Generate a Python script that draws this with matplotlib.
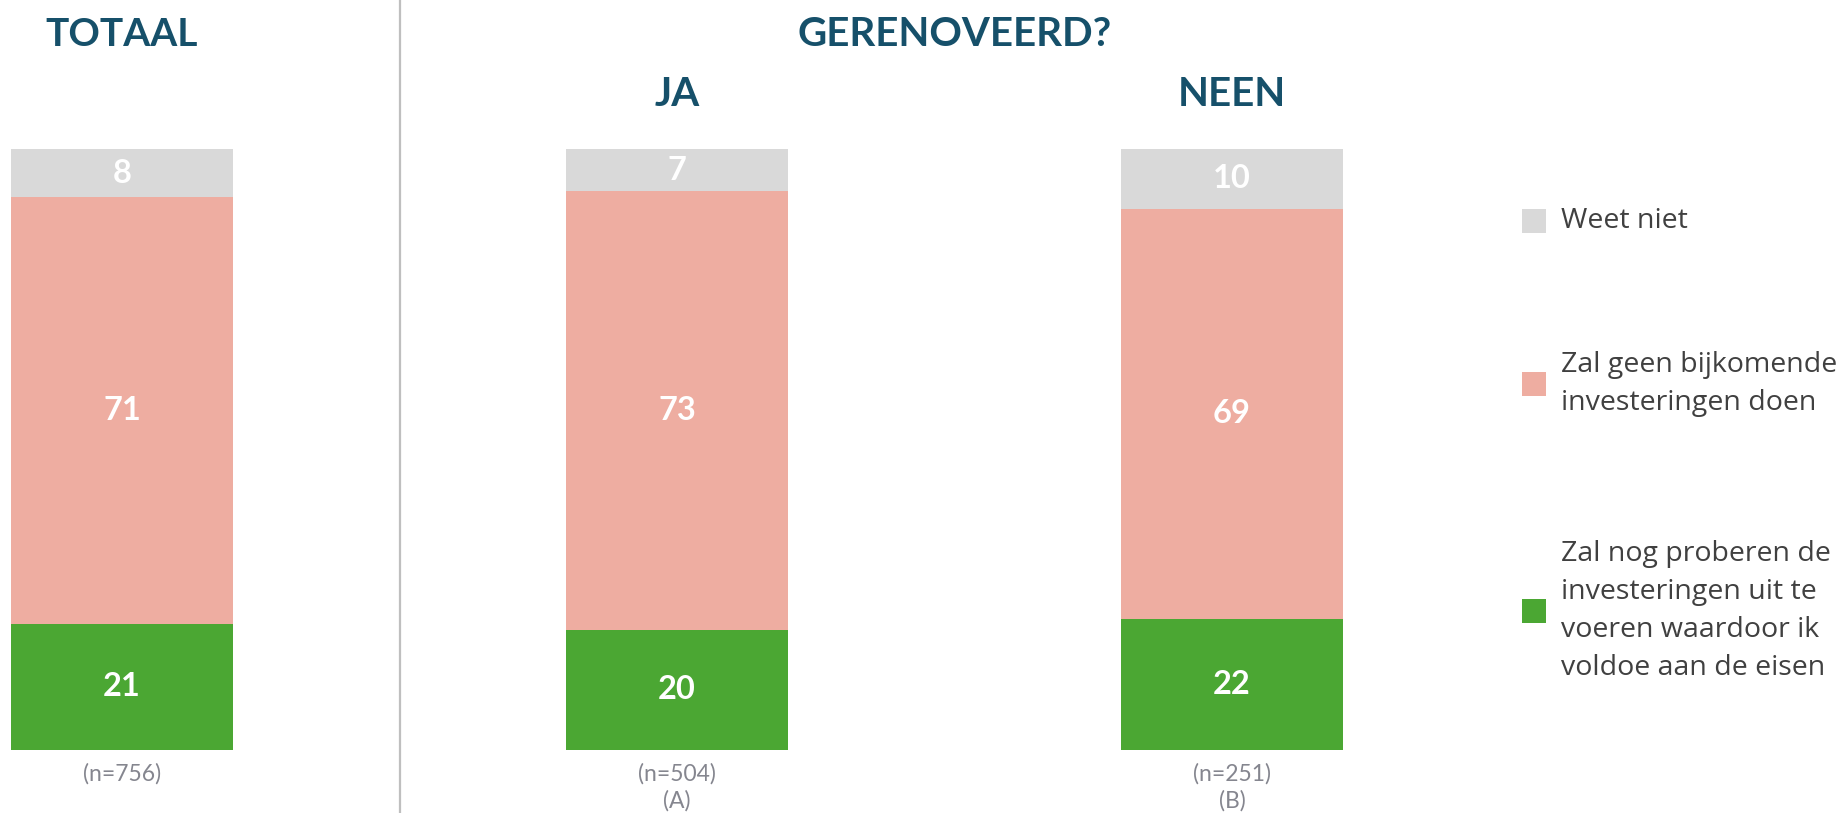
import numpy as np
import matplotlib
matplotlib.use('Agg')
import matplotlib.pyplot as plt
from matplotlib.patches import Rectangle
from matplotlib.transforms import blended_transform_factory

# Datos del gráfico
groepen = ['TOTAAL', 'JA', 'NEEN']
n_labels = ['(n=756)', '(n=504)\n(A)', '(n=251)\n(B)']
reeksen = ['Zal nog proberen de\ninvesteringen uit te\nvoeren waardoor ik\nvoldoe aan de eisen',
           'Zal geen bijkomende\ninvesteringen doen',
           'Weet niet']
groen = [21, 20, 22]
roze = [71, 73, 69]
grijs = [8, 7, 10]

kleuren = ['#4BA733', '#EEADA1', '#D9D9D9']
titel_kleur = '#16506A'

W, H = 1841, 813
fig = plt.figure(figsize=(W / 100, H / 100), dpi=100)

# Eje principal: barras apiladas normalizadas al 100%
ax = fig.add_axes([11 / W, 63 / H, 1332 / W, 601 / H])
data = np.array([groen, roze, grijs], dtype=float)
totalen = data.sum(axis=0)
hoogtes = data / totalen * 100

x = np.arange(len(groepen))
bodem = np.zeros(len(groepen))
for i in range(len(data)):
    ax.bar(x, hoogtes[i], bottom=bodem, width=0.4, color=kleuren[i], linewidth=0)
    for j in range(len(x)):
        ax.text(x[j], bodem[j] + hoogtes[i][j] / 2, f'{int(data[i][j])}',
                ha='center', va='center', color='white', fontsize=23.5,
                fontweight='bold', family='Lato')
    bodem += hoogtes[i]

ax.set_xlim(-0.2, 2.2)
ax.set_ylim(0, 100)
ax.axis('off')

# Línea divisoria entre total y subgrupos
ax.axvline(0.5, ymin=-63 / 601, ymax=750 / 601, color='#BFBFBF', linewidth=1.6, clip_on=False)

# Títulos
tr = blended_transform_factory(ax.transData, fig.transFigure)
ax.text(0, 1 - 34 / H, groepen[0], transform=tr, ha='center', va='center',
        fontsize=28, fontweight='bold', color=titel_kleur, family='Lato')
ax.text(1.5, 1 - 34 / H, 'GERENOVEERD?', transform=tr, ha='center', va='center',
        fontsize=29, fontweight='bold', color=titel_kleur, family='Lato')
for j in [1, 2]:
    ax.text(x[j], 1 - 94 / H, groepen[j], transform=tr, ha='center', va='center',
            fontsize=29, fontweight='bold', color=titel_kleur, family='Lato')

# Tamaño de muestra debajo de cada barra
for j in range(len(x)):
    ax.text(x[j], 1 - 763 / H, n_labels[j], transform=tr, ha='center', va='top',
            fontsize=16.5, color='#85868F', family='Lato', linespacing=1.3)

# Leyenda manual
leg_y = [221, 384, 611]
leg_items = [(reeksen[2], kleuren[2]), (reeksen[1], kleuren[1]), (reeksen[0], kleuren[0])]
for (tekst, kleur), yc in zip(leg_items, leg_y):
    fig.add_artist(Rectangle((1522 / W, 1 - (yc + 12) / H), 24 / W, 24 / H,
                             transform=fig.transFigure, color=kleur, linewidth=0))
    fig.text(1561 / W, 1 - yc / H, tekst, ha='left', va='center', fontsize=20.5,
             color='#404040', family='Open Sans', linespacing=1.48)

fig.savefig('out.png', dpi=100)
